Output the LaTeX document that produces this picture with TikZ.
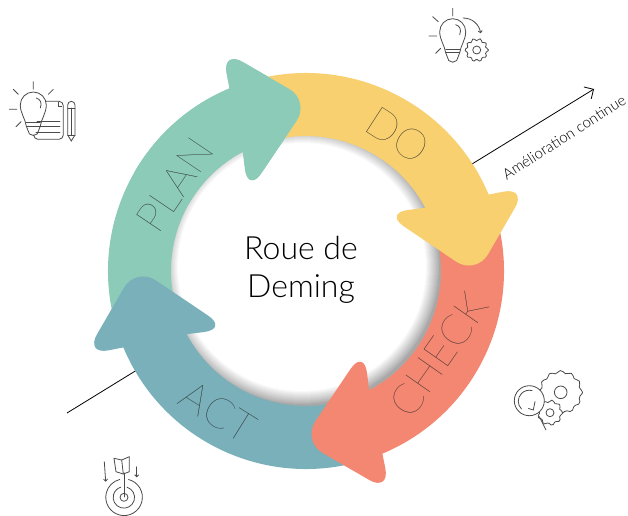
\documentclass[tikz,border=0pt]{standalone}
\usepackage{fontspec}
\setmainfont{Lato Light}
\newfontfamily\thinfont{Lato Thin}
\usetikzlibrary{arrows.meta}

\definecolor{planGreen}{HTML}{8CCBB8}
\definecolor{doYellow}{HTML}{F8D06F}
\definecolor{checkRed}{HTML}{F48771}
\definecolor{actBlue}{HTML}{79B0BA}
\definecolor{iconGray}{HTML}{4A4A4A}

\tikzset{
    icon/.style={draw=iconGray, line width=0.8pt, line cap=round},
    wheelLabel/.style={font=\thinfont\fontsize{42}{42}\selectfont, text=black!85, inner sep=0pt},
    bulbicon/.pic={
        \draw[icon] (-13,0) arc[start angle=180, end angle=0, radius=13] .. controls (13,-8) and (8,-14) .. (7,-21) -- (5.5,-25) arc[start angle=0, end angle=-180, radius=5.5] -- (-7,-21) .. controls (-8,-14) and (-13,-8) .. cycle;
        \draw[icon] (-7,-17.5) -- (7,-17.5) (-7,-21) -- (7,-21);
        \draw[icon] (3,7) .. controls (7,6) and (9,2) .. (7,-3);
    }
}

% wheel segment, #1 rotation, #2 colour, #3 start of the tail
\newcommand{\wheelarrow}[3]{
    \fill[#2, shift={(306,244)}, rotate=#1] (#3:198) arc[start angle=#3, end angle=22.7, radius=198] [rounded corners=24] -- (221,84) -- (170,-4) -- (78,58) [sharp corners] -- (27.9:135) arc[start angle=27.9, end angle=#3, radius=135] -- cycle;
}
% x, y, radius, tooth height, teeth, hole
\newcommand{\gearicon}[6]{
    \draw[icon, fill=white, shift={(#1,#2)}] plot[smooth cycle, samples=#5*4, domain=0:357] ({(#3+#4*cos(#5*\x))*cos(\x)},{(#3+#4*cos(#5*\x))*sin(\x)});
    \draw[icon, shift={(#1,#2)}] (0,0) circle[radius=#6];
}

\begin{document}
\begin{tikzpicture}[x=1pt, y=1pt]
    \useasboundingbox (0,0) rectangle (628,515);

    \coordinate (lineStart) at (67,102);
    \coordinate (lineEnd) at (594,426);
    \draw[line width=0.8pt, -{Straight Barb[length=7pt, width=14pt]}] (lineStart) -- (lineEnd);

    % shadow of the hole
    \fill[white] (306,244) circle[radius=140];
    \begin{scope}
        \clip (306,244) circle[radius=136];
        \fill[black!34] (306,244) circle[radius=136];
        \foreach \k in {0,...,13} {
            \pgfmathsetmacro{\tone}{30-2.3*\k}
            \fill[black!\tone] (302,248) circle[radius=137-\k];
        }
    \end{scope}

    \wheelarrow{90}{planGreen}{105}
    \wheelarrow{180}{actBlue}{105}
    \wheelarrow{-90}{checkRed}{105}
    \wheelarrow{0}{doYellow}{105}
    \wheelarrow{90}{planGreen}{60}

    \node[wheelLabel, rotate=56] (planLabel) at (175,330) {PLAN};
    \node[wheelLabel, rotate=-33] (doLabel) at (398,380) {DO};
    \node[wheelLabel, rotate=55] (checkLabel) at (439,160) {CHECK};
    \node[wheelLabel, rotate=-32] (actLabel) at (218,103) {ACT};

    \node[align=center, font=\fontsize{32}{38}\selectfont] (title) at (301,245) {Roue de\\Deming};
    \node[rotate=32.7, font=\fontsize{15}{15}\selectfont] (improveLabel) at (564,378) {Amélioration continue};

    % plan icon
    \draw[icon] (33.3,433.3) -- (33.3,425.7) (13.3,425.7) -- (18.3,420.7) (53.3,425.7) -- (48.3,420.7) (9.3,405.7) -- (16.7,405.7) (16,388.3) -- (21,393.3);
    \draw[icon] (46,413.7) -- (59,413.7) arc[start angle=90, end angle=0, radius=4.3] -- (63.3,380) arc[start angle=0, end angle=-90, radius=4.3] -- (38,375.7) arc[start angle=-90, end angle=-180, radius=4.3] -- (33.7,380);
    \draw[icon] (58.3,413) -- (58.3,408.7) -- (61.7,408.7);
    \draw[icon] (37,393.3) -- (60,393.3) (37,388.3) -- (60,388.3) (36,382.3) -- (60,382.3);
    \draw[icon] (67.7,380) -- (67.7,410) arc[start angle=180, end angle=0, radius=3.65] -- (75,380) -- (71.3,374) -- cycle;
    \draw[icon] (67.7,407) -- (75,407) (67.7,380) -- (75,380) (71.3,380) -- (71.3,407);
    \pic at (33.3,410) {bulbicon};

    % do icon
    \draw[icon] (452.7,506.7) -- (452.7,499) (432.7,498.3) -- (438.3,493.3) (429,479) -- (436.7,479) (440.7,466.7) -- (435.7,461.7);
    \pic at (452.7,483.3) {bulbicon};
    \draw[icon, -{Straight Barb[length=2pt, width=4pt]}] (463,497) .. controls (472,497) and (479,491) .. (480.7,481.7);
    \gearicon{476.7}{465}{10.5}{1.2}{10}{4}

    % check icon
    \gearicon{560.7}{122.7}{20.5}{1.3}{12}{6.3}
    \gearicon{550}{102.3}{11.5}{1.2}{9}{4}
    \draw[icon] (539.3,98.3) -- (546,85);
    \draw[icon, fill=white] (529.3,114.3) circle[radius=15];
    \draw[icon] (521.5,106) arc[start angle=225, end angle=75, radius=11] (535,113.5) -- (533.3,105) -- (528.5,106.5);

    % act icon
    \draw[icon] (124,18) -- (124,42);
    \draw[icon] (114,56.7) -- (121.7,55) -- (129.3,58.3) -- (129.3,43.3) -- (123.3,41) -- (116,43.3) -- cycle;
    \draw[icon] (121.7,55) -- (123.3,41);
    \draw[icon, -{Straight Barb[length=2pt, width=4pt]}] (104.3,53.3) -- (105.7,33.3);
    \draw[icon, -{Straight Barb[length=2pt, width=4pt]}] (136.7,48.3) -- (136.7,37.7);
    \draw[icon] (124,17.7) circle[radius=4];
    \draw[icon] (127,27.8) arc[start angle=73, end angle=-253, radius=10.7];
    \draw[icon] (128.5,35.5) arc[start angle=76, end angle=-256, radius=18.3];
\end{tikzpicture}
\end{document}
